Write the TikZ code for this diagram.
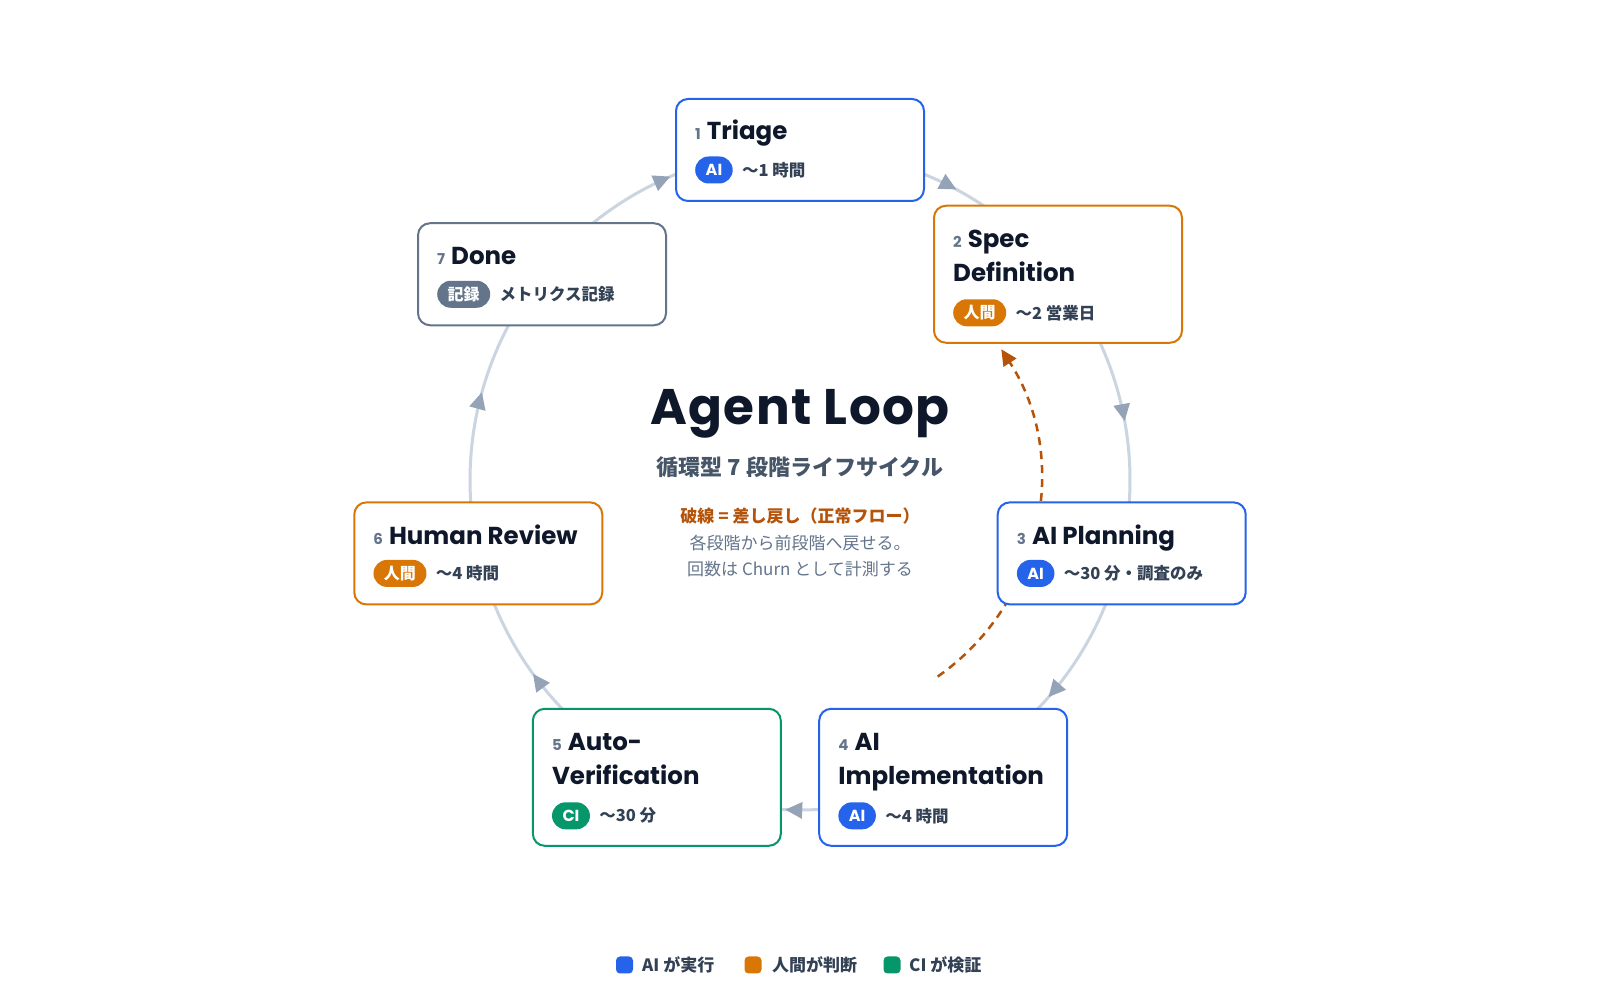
\documentclass[tikz,border=0pt]{standalone}
\usepackage{fontspec}
\setmainfont{Noto Sans CJK JP}
\newfontfamily\lat{Poppins}
\newfontfamily\latwide{Poppins}[LetterSpace=3]
\usetikzlibrary{arrows.meta,decorations.markings,backgrounds,calc}
\definecolor{cblue}{HTML}{2563EB}
\definecolor{corange}{HTML}{D97706}
\definecolor{cgreen}{HTML}{059669}
\definecolor{cslate}{HTML}{64748B}
\definecolor{cink}{HTML}{0F172A}
\definecolor{ctext}{HTML}{334155}
\definecolor{csub}{HTML}{475569}
\definecolor{cline}{HTML}{CBD5E1}
\definecolor{carrow}{HTML}{94A3B8}
\definecolor{cback}{HTML}{B45309}
\newcommand\fs[1]{\fontsize{#1}{#1}\selectfont}
\newcommand\numtxt[1]{{\color{cslate}\fs{15}#1}\hspace{6pt}}
\tikzset{
  stagebox/.style={rectangle, rounded corners=12pt, fill=white, line width=2pt, minimum width=248pt, inner sep=0pt},
  badge/.style={rectangle, rounded corners=13.5pt, minimum height=27pt, inner xsep=10.5pt, inner ysep=0pt, text=white, anchor=west, font=\bfseries\fs{16}},
  info/.style={inner sep=0pt, anchor=west, text=ctext, font=\bfseries\fs{16.5}},
  ttl/.style={inner sep=0pt, anchor=base west, text=cink, font=\lat\bfseries\fs{24.5}},
  loopline/.style={draw=cline, line width=3pt, postaction={decorate},
    decoration={markings, mark=at position 0.55 with {\arrow[carrow]{Triangle[length=17pt,width=16pt]}}}},
  backline/.style={draw=cback, line width=2.5pt, dash pattern=on 8pt off 6pt, -{Triangle[length=16pt,width=15pt]}},
  legsq/.style={rectangle, rounded corners=4pt, minimum width=17pt, minimum height=17pt, inner sep=0pt},
  legtxt/.style={inner sep=0pt, anchor=west, text=ctext, font=\bfseries\fs{17}}
}
\newcommand\stage[7]{%
  \node[stagebox, draw=#3, minimum height=#4pt] (#1) at ([shift={(#2:330)}]C) {};
  \node[badge, fill=#3] (#1b) at ([shift={(20pt,-#7pt)}]#1.north west) {#5};
  \node[info] (#1i) at ([xshift=9pt]#1b.east) {#6};
}
\begin{document}
\begin{tikzpicture}[x=1pt,y=1pt]
\useasboundingbox (0,0) rectangle (1600,1000);
\coordinate (C) at (800,520);

\stage{n1}{90}{cblue}{102}{\lat AI}{〜1 時間}{72}
\stage{n2}{38.571}{corange}{137}{人間}{〜2 営業日}{108}
\stage{n3}{-12.857}{cblue}{102}{\lat AI}{〜30 分・調査のみ}{72}
\stage{n4}{-64.286}{cblue}{137}{\lat AI}{〜4 時間}{108}
\stage{n5}{-115.714}{cgreen}{137}{\lat CI}{〜30 分}{108}
\stage{n6}{-167.143}{corange}{102}{人間}{〜4 時間}{72}
\stage{n7}{141.429}{cslate}{102}{記録}{メトリクス記録}{72}

\node[ttl] (n1t) at ([shift={(20,-42)}]n1.north west) {\numtxt{1}Triage};
\node[ttl] (n2t) at ([shift={(20,-43)}]n2.north west) {\numtxt{2}Spec};
\node[ttl] (n2u) at ([shift={(20,-77)}]n2.north west) {Definition};
\node[ttl] (n3t) at ([shift={(20,-43)}]n3.north west) {\numtxt{3}AI Planning};
\node[ttl] (n4t) at ([shift={(20,-43)}]n4.north west) {\numtxt{4}AI};
\node[ttl] (n4u) at ([shift={(20,-77)}]n4.north west) {Implementation};
\node[ttl] (n5t) at ([shift={(20,-43)}]n5.north west) {\numtxt{5}Auto-};
\node[ttl] (n5u) at ([shift={(20,-77)}]n5.north west) {Verification};
\node[ttl] (n6t) at ([shift={(20,-43)}]n6.north west) {\numtxt{6}Human Review};
\node[ttl] (n7t) at ([shift={(20,-42)}]n7.north west) {\numtxt{7}Done};

\node[inner sep=0pt, anchor=base, text=cink, font=\latwide\bfseries\fs{50}] (title) at (800,575) {Agent Loop};
\node[inner sep=0pt, text=csub, font=\bfseries\fs{22}] (sub) at (800,533) {循環型 7 段階ライフサイクル};
\node[inner sep=0pt, text=cback, font=\bfseries\fs{17}] (note1) at (800,483.5) {破線 = 差し戻し（正常フロー）};
\node[inner sep=0pt, text=cslate, font=\fs{17}] (note2) at (800,457) {各段階から前段階へ戻せる。};
\node[inner sep=0pt, text=cslate, font=\fs{17}] (note3) at (800,431) {回数は Churn として計測する};

\node[legsq, fill=cblue] (lg1) at (624.5,35) {};
\node[legtxt] (lg1t) at (642,35) {AI が実行};
\node[legsq, fill=corange] (lg2) at (753,35) {};
\node[legtxt] (lg2t) at (772,35) {人間が判断};
\node[legsq, fill=cgreen] (lg3) at (892,35) {};
\node[legtxt] (lg3t) at (909,35) {CI が検証};

\begin{pgfonlayer}{background}
\fill[white] (0,0) rectangle (1600,1000);
\draw[loopline] (n1.center) arc[start angle=90, end angle=38.571, radius=330];
\draw[loopline] (n2.center) arc[start angle=38.571, end angle=-12.857, radius=330];
\draw[loopline] (n3.center) arc[start angle=-12.857, end angle=-64.286, radius=330];
\draw[loopline] (n4.center) arc[start angle=-64.286, end angle=-115.714, radius=330];
\draw[loopline] (n5.center) arc[start angle=-115.714, end angle=-167.143, radius=330];
\draw[loopline] (n6.center) arc[start angle=-167.143, end angle=-218.571, radius=330];
\draw[loopline] (n7.center) arc[start angle=141.429, end angle=90, radius=330];
\coordinate (rs) at ([shift={(-55:240)}]C);
\draw[backline] (rs) arc[start angle=-55, end angle=33, radius=240];
\end{pgfonlayer}
\end{tikzpicture}
\end{document}
